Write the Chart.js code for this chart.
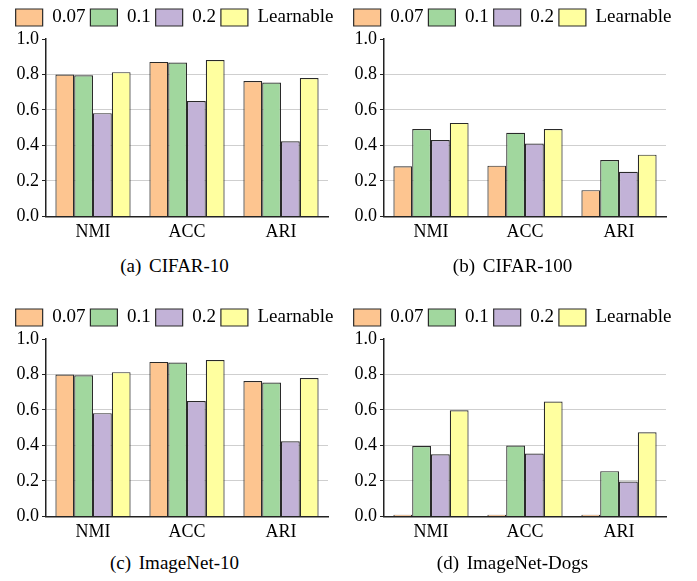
<!DOCTYPE html>
<html lang="en">
<head>
<meta charset="UTF-8">
<title>Temperature ablation</title>
<script src="https://cdn.jsdelivr.net/npm/chart.js"></script>
<style>
    body { margin: 0; background: #fff; width: 697px; height: 581px; position: relative; font-family: "Liberation Serif", serif; }
    .panel { position: absolute; width: 349px; height: 248px; }
    .caption { position: absolute; width: 349px; text-align: center; font-size: 19px; line-height: 22px; color: #000; word-spacing: 3px; }
</style>
</head>
<body>
<div class="panel" style="left:0;top:0"><canvas id="chartA"></canvas></div>
<div class="panel" style="left:338px;top:0"><canvas id="chartB"></canvas></div>
<div class="panel" style="left:0;top:300px"><canvas id="chartC"></canvas></div>
<div class="panel" style="left:338px;top:300px"><canvas id="chartD"></canvas></div>
<div class="caption" style="left:0;top:255px">(a) CIFAR-10</div>
<div class="caption" style="left:338px;top:255px">(b) CIFAR-100</div>
<div class="caption" style="left:0;top:552px">(c) ImageNet-10</div>
<div class="caption" style="left:338px;top:552px">(d) ImageNet-Dogs</div>

<script>
// data
var metrics = ['NMI', 'ACC', 'ARI'];
var temps = ['0.07', '0.1', '0.2', 'Learnable'];
var yTicks = [0, 0.2, 0.4, 0.6, 0.8, 1.0];

// one row per temperature: NMI, ACC, ARI
var cifar10 = [
    [0.800, 0.871, 0.763],
    [0.795, 0.867, 0.755],
    [0.582, 0.650, 0.424],
    [0.813, 0.882, 0.780]
];
var cifar100 = [
    [0.282, 0.286, 0.148],
    [0.492, 0.471, 0.318],
    [0.430, 0.411, 0.251],
    [0.527, 0.492, 0.348]
];
var imagenet10 = [
    [0.800, 0.871, 0.763],
    [0.795, 0.867, 0.755],
    [0.582, 0.650, 0.424],
    [0.813, 0.882, 0.780]
];
var imagenetDogs = [
    [0.010, 0.010, 0.010],
    [0.397, 0.400, 0.255],
    [0.350, 0.354, 0.197],
    [0.598, 0.647, 0.474]
];

var fills = ['#fdc590', '#a1d79e', '#c2b2d7', '#ffff9f'];
var serif = 'Liberation Serif';

// some room between legend and plot
var legendGap = {
    id: 'legendGap',
    beforeInit: function (chart) {
        var fit = chart.legend.fit;
        chart.legend.fit = function () {
            fit.bind(chart.legend)();
            this.height += 2;
        };
    }
};

function makeChart(id, rows) {
    var ctx = document.getElementById(id).getContext('2d');
    return new Chart(ctx, {
        type: 'bar',
        data: {
            labels: metrics,
            datasets: temps.map(function (t, i) {
                return {
                    label: t,
                    data: rows[i],
                    backgroundColor: fills[i],
                    borderColor: '#2a2a2a',
                    borderWidth: 1.2
                };
            })
        },
        plugins: [legendGap],
        options: {
            responsive: true,
            maintainAspectRatio: false,
            animation: false,
            layout: { padding: { left: 0, right: 0, top: 3, bottom: 0 } },
            datasets: { bar: { categoryPercentage: 0.8, barPercentage: 1.0 } },
            plugins: {
                legend: {
                    position: 'top',
                    labels: {
                        boxWidth: 27,
                        boxHeight: 17,
                        padding: 5,
                        color: '#000',
                        font: { family: serif, size: 19 }
                    }
                },
                tooltip: { enabled: false }
            },
            scales: {
                x: {
                    grid: { display: false, drawTicks: false },
                    border: { color: '#222', width: 1.5 },
                    ticks: { color: '#000', padding: 5, font: { family: serif, size: 18 } }
                },
                y: {
                    min: 0,
                    max: 1,
                    afterBuildTicks: function (scale) {
                        scale.ticks = yTicks.map(function (v) { return { value: v }; });
                    },
                    afterFit: function (scale) { scale.width = 46; },
                    ticks: {
                        color: '#000',
                        padding: 3,
                        font: { family: serif, size: 18 },
                        callback: function (v) { return Number(v).toFixed(1); }
                    },
                    grid: {
                        color: function (c) {
                            return (c.tick && c.tick.value > 0 && c.tick.value < 1) ? '#cfcfcf' : 'rgba(0,0,0,0)';
                        },
                        tickColor: '#222',
                        tickLength: 4
                    },
                    border: { color: '#222', width: 1.5 }
                },
                // empty right axis, only keeps the plot off the right edge
                yRight: {
                    position: 'right',
                    grid: { display: false, drawTicks: false },
                    border: { display: false },
                    ticks: { display: false },
                    afterFit: function (scale) { scale.width = 21; }
                }
            }
        }
    });
}

makeChart('chartA', cifar10);
makeChart('chartB', cifar100);
makeChart('chartC', imagenet10);
makeChart('chartD', imagenetDogs);
</script>
</body>
</html>
